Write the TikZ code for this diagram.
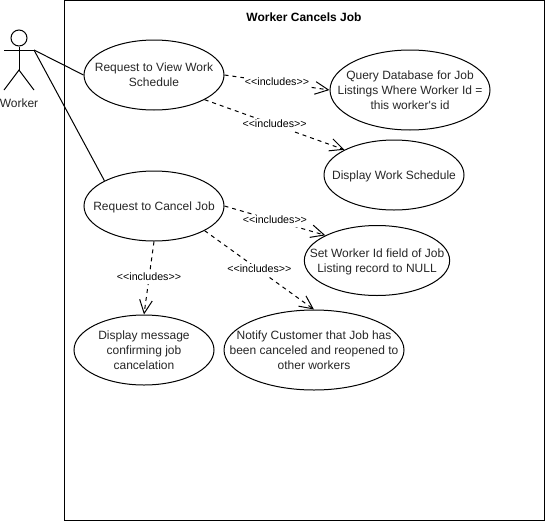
\documentclass[tikz,border=0pt]{standalone}
\usepackage{fontspec}
\setmainfont{Liberation Sans}[Ligatures=TeXOff]
\usetikzlibrary{arrows.meta, positioning, shapes.geometric}

\begin{document}
\begin{tikzpicture}[
    x=0.75pt, y=-0.75pt,
    node distance=45pt,
    line width=0.75pt,
    usecase/.style={ellipse, draw, inner sep=-30pt, minimum width=105pt, minimum height=52.5pt, align=center, text depth=0pt, font=\fontsize{9}{11.25}\selectfont, text=black!85},
    actorline/.style={line width=0.75pt},
    assoc/.style={line width=0.75pt},
    includes/.style={dashed, -{Straight Barb[length=10pt, width=9.5pt]}},
    inclabel/.style={fill=white, inner xsep=0.5pt, inner ysep=0pt, text height=6.5pt, text depth=2.5pt, font=\fontsize{8}{9}\selectfont}
]
\useasboundingbox (0,0) rectangle (545,521);

\node[draw, minimum width=360pt, minimum height=390pt, inner sep=0pt] (system) at (304,260) {};
\node[font=\bfseries\fontsize{9}{11}\selectfont] (title) at (304,17) {Worker Cancels Job};

% actor
\node[circle, draw, minimum size=12pt, inner sep=0pt] (head) at (19,38) {};
\coordinate (leftarm) at (4,50);
\coordinate (rightarm) at (34,50);
\coordinate (hip) at (19,70);
\coordinate (leftfoot) at (4,90);
\coordinate (rightfoot) at (34,90);
\draw[actorline] (head) -- (hip);
\draw[actorline] (leftarm) -- (rightarm);
\draw[actorline] (leftfoot) -- (hip) -- (rightfoot);
\node[font=\fontsize{9}{11}\selectfont, text=black!85] (worker) at (19,103) {Worker};

% use cases
\node[usecase] (view) at (154,75) {Request to View Work\\Schedule};
\node[usecase, below=45pt of view] (cancel) {Request to Cancel Job};
\node[usecase, minimum width=120pt, minimum height=60pt] (query) at (410,90) {Query Database for Job\\Listings Where Worker Id =\\this worker's id};
\node[usecase] (schedule) at (394,175) {Display Work Schedule};
\node[usecase, minimum width=109pt] (setnull) at (377,260.5) {Set Worker Id field of Job\\Listing record to NULL};
\node[usecase] (message) at (144,350) {Display message\\confirming job\\cancelation};
\node[usecase, minimum width=135pt, minimum height=60pt] (notify) at (314,350) {Notify Customer that Job has\\been canceled and reopened to\\other workers};

\draw[assoc] (rightarm) -- (view.west);
\draw[assoc] (rightarm) -- (cancel.153);

\draw[includes] (view.east) -- node[inclabel] (lquery) {<<includes>>} (query.west);
\draw[includes] (view.-26) -- node[inclabel] (lschedule) {<<includes>>} (schedule.153);
\draw[includes] (cancel.east) -- node[inclabel] (lsetnull) {<<includes>>} (setnull.154);
\draw[includes] (cancel.south) -- node[inclabel] (lmessage) {<<includes>>} (message.north);
\draw[includes] (cancel.-26) -- node[inclabel] (lnotify) {<<includes>>} (notify.north);
\end{tikzpicture}
\end{document}
